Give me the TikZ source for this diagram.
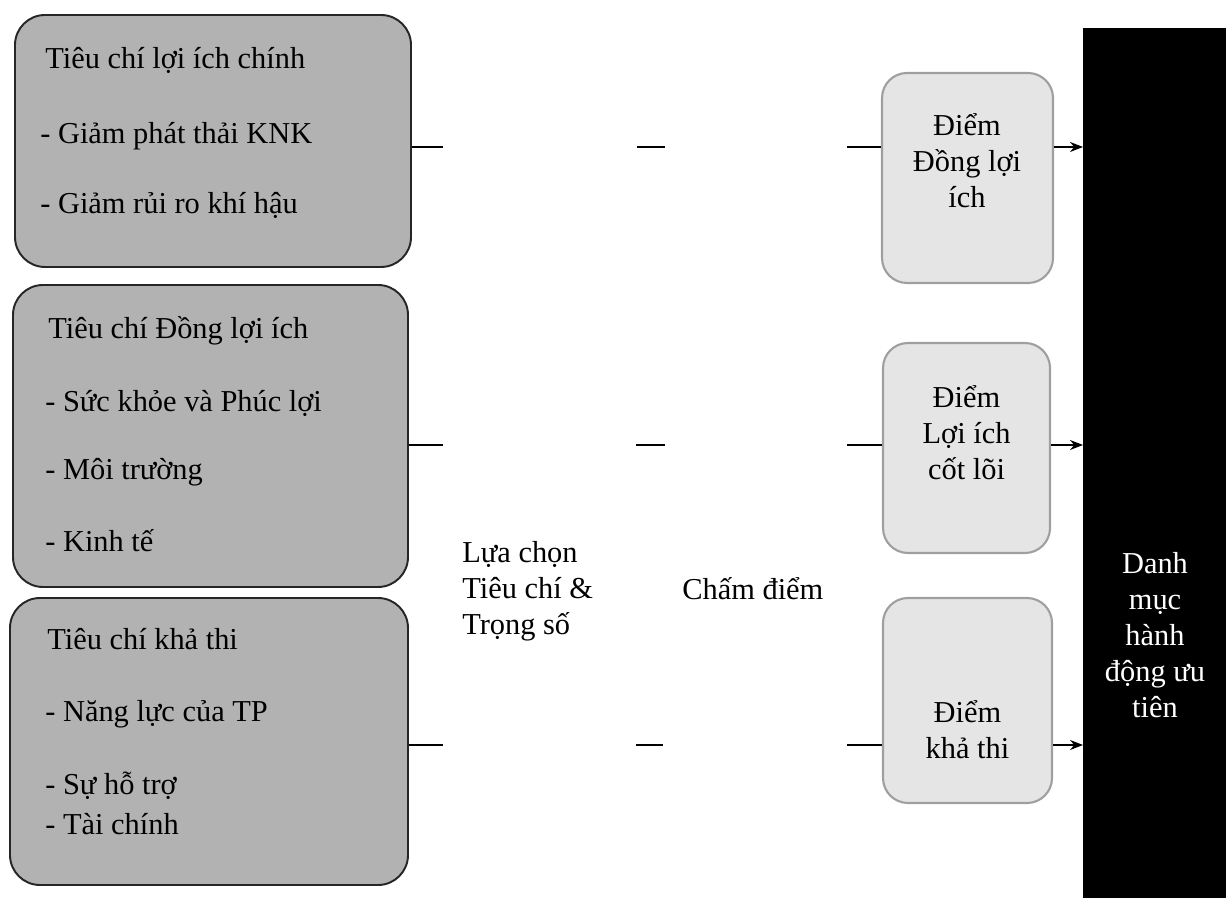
\documentclass[tikz,border=0pt]{standalone}
\usepackage{fontspec}
\setmainfont{Liberation Serif}
\usetikzlibrary{arrows.meta}
\newcommand{\diagfont}{\fontsize{17.3}{20.5}\selectfont}
\tikzset{
  critbox/.style={draw=black!85, line width=1.1pt, fill=gray!60, rounded corners=0.6cm, inner sep=0pt},
  scorebox/.style={draw=gray!75, line width=1.2pt, fill=gray!20, rounded corners=0.5cm,
    minimum width=3.4cm, minimum height=4.2cm, inner sep=0pt},
  boxtext/.style={inner sep=0pt, anchor=base west},
  link/.style={line width=0.8pt},
  arrow/.style={line width=0.8pt, -{Stealth[length=0.26cm, width=0.2cm]}}
}
\begin{document}
\begin{tikzpicture}[font=\diagfont]
  \useasboundingbox (0,0) rectangle (24.52,17.96);

  % Criteria box 1
  \node[critbox, minimum width=7.92cm, minimum height=5.04cm] (crit1) at (4.26,15.14) {};
  \node[boxtext] (c1a) at (0.9,16.58) {Tiêu chí lợi ích chính};
  \node[boxtext] (c1b) at (0.8,15.08) {- Giảm phát thải KNK};
  \node[boxtext] (c1c) at (0.8,13.68) {- Giảm rủi ro khí hậu};

  % Criteria box 2
  \node[critbox, minimum width=7.9cm, minimum height=6.04cm] (crit2) at (4.21,9.24) {};
  \node[boxtext] (c2a) at (0.96,11.18) {Tiêu chí Đồng lợi ích};
  \node[boxtext] (c2b) at (0.9,9.72) {- Sức khỏe và Phúc lợi};
  \node[boxtext] (c2c) at (0.9,8.36) {- Môi trường};
  \node[boxtext] (c2d) at (0.9,6.92) {- Kinh tế};

  % Criteria box 3
  \node[critbox, minimum width=7.96cm, minimum height=5.74cm] (crit3) at (4.18,3.13) {};
  \node[boxtext] (c3a) at (0.94,4.96) {Tiêu chí khả thi};
  \node[boxtext] (c3b) at (0.9,3.52) {- Năng lực của TP};
  \node[boxtext] (c3c) at (0.9,2.08) {- Sự hỗ trợ};
  \node[boxtext] (c3d) at (0.9,1.28) {- Tài chính};

  % Middle labels
  \node[inner sep=0pt, anchor=west, align=left] (select) at (9.24,6.13) {Lựa chọn\\Tiêu chí \&\\Trọng số};
  \node[boxtext] (scoring) at (13.64,5.96) {Chấm điểm};

  % Score boxes
  \node[scorebox, minimum width=3.42cm] (score1) at (19.35,14.4) {};
  \node[align=center] (s1) at (19.34,14.74) {Điểm\\Đồng lợi\\ích};
  \node[scorebox, minimum width=3.34cm] (score2) at (19.33,9.0) {};
  \node[align=center] (s2) at (19.33,9.3) {Điểm\\Lợi ích\\cốt lõi};
  \node[scorebox, minimum width=3.38cm, minimum height=4.1cm] (score3) at (19.35,3.95) {};
  \node[align=center] (s3) at (19.35,3.36) {Điểm\\khả thi};

  % Priority list
  \node[fill=black, minimum width=2.86cm, minimum height=17.4cm, inner sep=0pt, outer sep=0pt] (list) at (23.09,8.7) {};
  \node[text=white, align=center] (listtext) at (23.1,5.25) {Danh\\mục\\hành\\động ưu\\tiên};

  % Row 1 links
  \coordinate (l1a) at (8.86,15.02);
  \coordinate (m1a) at (12.74,15.02);
  \coordinate (m1b) at (13.3,15.02);
  \coordinate (l1b) at (16.94,15.02);
  \draw[link] (crit1.east |- l1a) -- (l1a);
  \draw[link] (m1a) -- (m1b);
  \draw[link] (l1b) -- (score1.west |- l1b);
  \draw[arrow] (score1.east |- l1b) -- (list.west |- l1b);

  % Row 2 links
  \coordinate (l2a) at (8.86,9.06);
  \coordinate (m2a) at (12.72,9.06);
  \coordinate (m2b) at (13.3,9.06);
  \coordinate (l2b) at (16.94,9.06);
  \draw[link] (crit2.east |- l2a) -- (l2a);
  \draw[link] (m2a) -- (m2b);
  \draw[link] (l2b) -- (score2.west |- l2b);
  \draw[arrow] (score2.east |- l2b) -- (list.west |- l2b);

  % Row 3 links
  \coordinate (l3a) at (8.86,3.06);
  \coordinate (m3a) at (12.72,3.06);
  \coordinate (m3b) at (13.26,3.06);
  \coordinate (l3b) at (16.94,3.06);
  \draw[link] (crit3.east |- l3a) -- (l3a);
  \draw[link] (m3a) -- (m3b);
  \draw[link] (l3b) -- (score3.west |- l3b);
  \draw[arrow] (score3.east |- l3b) -- (list.west |- l3b);
\end{tikzpicture}
\end{document}
